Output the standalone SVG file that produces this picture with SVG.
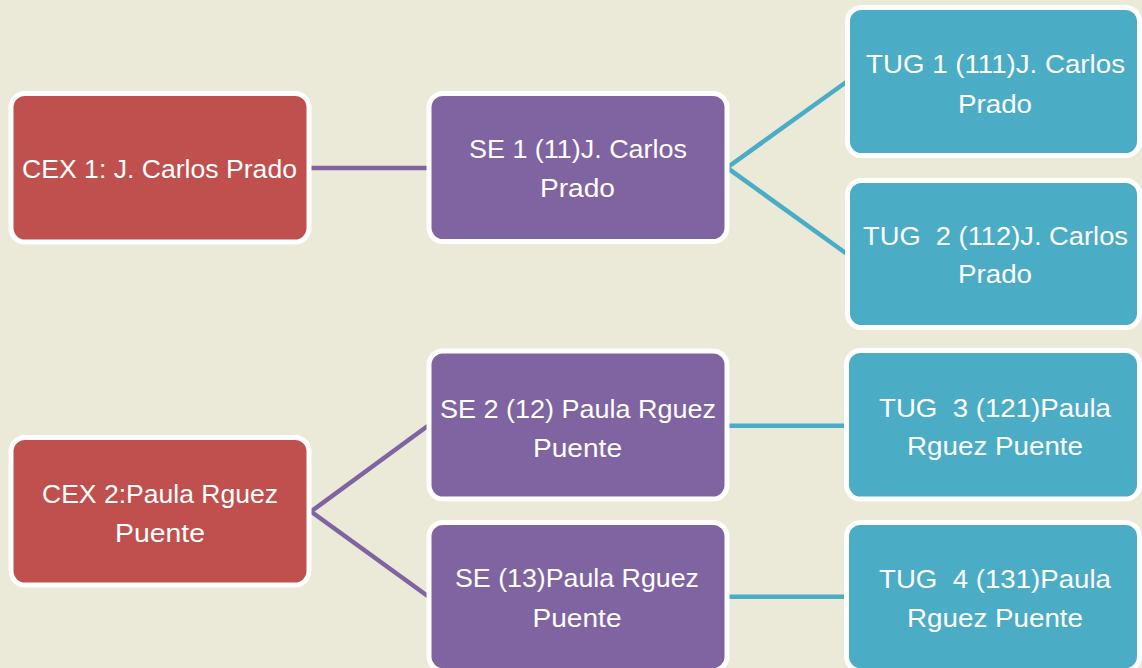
<svg xmlns="http://www.w3.org/2000/svg" width="1142" height="668" viewBox="0 0 1142 668">
<style>
.box{stroke:#ffffff;stroke-width:5}
.red{fill:#C0504D}
.pur{fill:#8064A2}
.teal{fill:#4BACC6}
.t{font-family:"Liberation Sans",Arial,sans-serif;font-size:26px;fill:#ffffff;text-anchor:middle;white-space:pre}
.cp{stroke:#8064A2;stroke-width:4.5;fill:none}
.ct{stroke:#4BACC6;stroke-width:4.5;fill:none}
</style>
<rect width="1142" height="668" fill="#EBE9D8"/>
<g id="connectors">
<line class="cp" x1="309" y1="168" x2="429" y2="168"/>
<polyline class="ct" points="847,81.5 727,167.7 847,254"/>
<polyline class="cp" points="429,425 311,511.5 429,597"/>
<line class="ct" x1="727" y1="425.7" x2="847" y2="425.7"/>
<line class="ct" x1="727" y1="596.7" x2="847" y2="596.7"/>
</g>
<g id="cex1">
<rect class="box red" x="11" y="93.5" width="298" height="148.5" rx="14"/>
<text class="t" x="159.5" y="178" textLength="275" lengthAdjust="spacingAndGlyphs">CEX 1: J. Carlos Prado</text>
</g>
<g id="se1">
<rect class="box pur" x="429" y="93.5" width="298" height="148" rx="14"/>
<text class="t" x="578" y="158" textLength="218" lengthAdjust="spacingAndGlyphs">SE 1 (11)J. Carlos</text>
<text class="t" x="577.5" y="197" textLength="75" lengthAdjust="spacingAndGlyphs">Prado</text>
</g>
<g id="tug1">
<rect class="box teal" x="847.5" y="7.5" width="292" height="148" rx="14"/>
<text class="t" x="995.5" y="73" textLength="259" lengthAdjust="spacingAndGlyphs">TUG 1 (111)J. Carlos</text>
<text class="t" x="995" y="113" textLength="74" lengthAdjust="spacingAndGlyphs">Prado</text>
</g>
<g id="tug2">
<rect class="box teal" x="847.5" y="180.5" width="292" height="147" rx="14"/>
<text class="t" x="995.5" y="245" textLength="265" lengthAdjust="spacingAndGlyphs">TUG  2 (112)J. Carlos</text>
<text class="t" x="995" y="283" textLength="74" lengthAdjust="spacingAndGlyphs">Prado</text>
</g>
<g id="cex2">
<rect class="box red" x="11" y="437.5" width="298" height="147.5" rx="14"/>
<text class="t" x="160" y="502.7" textLength="236" lengthAdjust="spacingAndGlyphs">CEX 2:Paula Rguez</text>
<text class="t" x="160" y="541.7" textLength="90" lengthAdjust="spacingAndGlyphs">Puente</text>
</g>
<g id="se2">
<rect class="box pur" x="429" y="351" width="298" height="148" rx="14"/>
<text class="t" x="578" y="418" textLength="276" lengthAdjust="spacingAndGlyphs">SE 2 (12) Paula Rguez</text>
<text class="t" x="577.5" y="457" textLength="89" lengthAdjust="spacingAndGlyphs">Puente</text>
</g>
<g id="se3">
<rect class="box pur" x="429" y="522.5" width="298" height="148" rx="14"/>
<text class="t" x="577" y="587.3" textLength="244" lengthAdjust="spacingAndGlyphs">SE (13)Paula Rguez</text>
<text class="t" x="577" y="626.7" textLength="89" lengthAdjust="spacingAndGlyphs">Puente</text>
</g>
<g id="tug3">
<rect class="box teal" x="846.5" y="350.5" width="293" height="148.5" rx="14"/>
<text class="t" x="995" y="416.7" textLength="232" lengthAdjust="spacingAndGlyphs">TUG  3 (121)Paula</text>
<text class="t" x="995" y="455" textLength="176" lengthAdjust="spacingAndGlyphs">Rguez Puente</text>
</g>
<g id="tug4">
<rect class="box teal" x="846.5" y="522.5" width="293" height="148" rx="14"/>
<text class="t" x="995" y="588" textLength="232" lengthAdjust="spacingAndGlyphs">TUG  4 (131)Paula</text>
<text class="t" x="995" y="626.7" textLength="176" lengthAdjust="spacingAndGlyphs">Rguez Puente</text>
</g>
</svg>
